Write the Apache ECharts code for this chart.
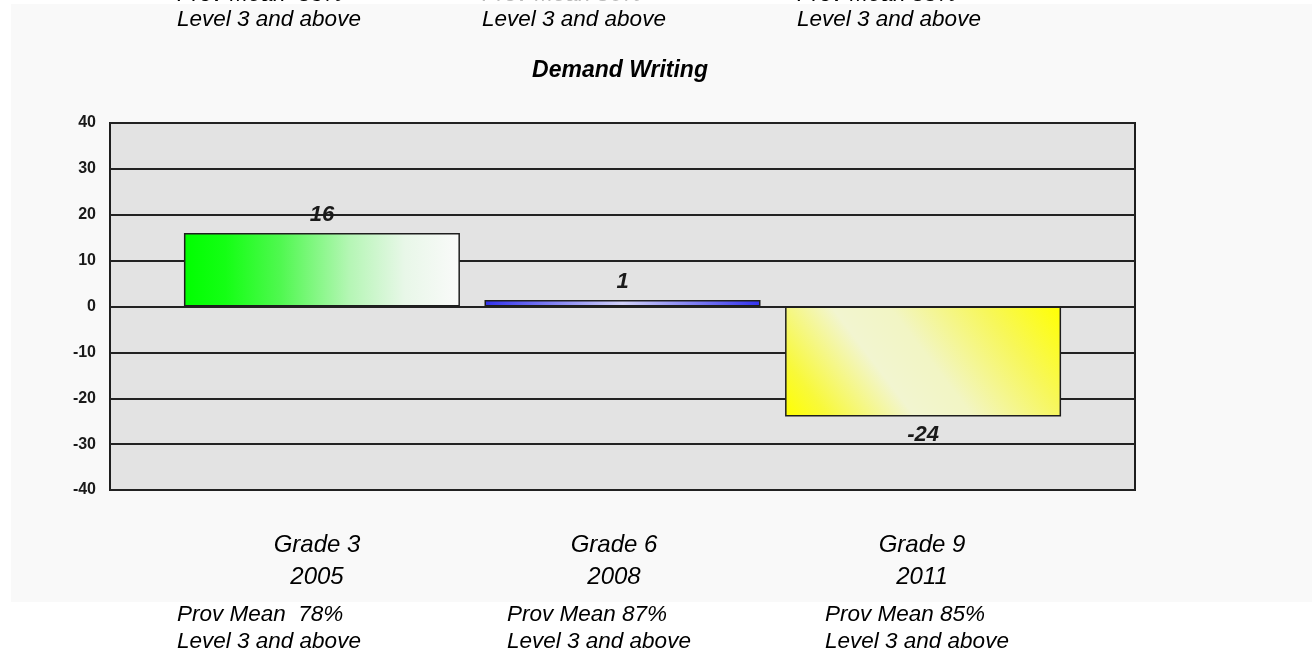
<!DOCTYPE html>
<html>
<head>
<meta charset="utf-8">
<style>
html,body{margin:0;padding:0;background:#ffffff;}
#chart{width:1314px;height:667px;}
</style>
<script src="https://cdn.jsdelivr.net/npm/echarts@6/dist/echarts.min.js"></script>
</head>
<body>
<div id="chart"></div>
<script>
var title = 'Demand Writing';
var grades = ['Grade 3', 'Grade 6', 'Grade 9'];
var years = ['2005', '2008', '2011'];
var values = [16, 1.4, -24];
var provMeans = ['78%', '87%', '85%'];
var topProvMeans = ['83%', '86%', '85%'];
var yTicks = [-40, -30, -20, -10, 0, 10, 20, 30, 40];

var FONT = "'Liberation Sans', Arial, sans-serif";

var fills = [
  new echarts.graphic.LinearGradient(0, 0, 1, 0, [
    {offset: 0, color: '#00ff00'},
    {offset: 0.15, color: '#14ff14'},
    {offset: 0.35, color: '#50f850'},
    {offset: 0.6, color: '#b5f6b5'},
    {offset: 0.8, color: '#e8f7e8'},
    {offset: 1, color: '#fafafa'}
  ]),
  new echarts.graphic.LinearGradient(0, 0, 1, 0, [
    {offset: 0, color: '#3232ee'},
    {offset: 0.5, color: '#d2d2fa'},
    {offset: 1, color: '#3232ee'}
  ]),
  new echarts.graphic.LinearGradient(0, 1, 0.83, -0.58, [
    {offset: 0, color: '#ffff00'},
    {offset: 0.12, color: '#f8f93a'},
    {offset: 0.36, color: '#f2f5d0'},
    {offset: 0.52, color: '#f2f5c4'},
    {offset: 0.78, color: '#f7f75a'},
    {offset: 1, color: '#ffff00'}
  ])
];

var series = grades.map(function (g, i) {
  return {
    name: g,
    type: 'bar',
    barWidth: 276,
    barGap: '8.9%',
    data: [values[i]],
    itemStyle: {color: fills[i], borderColor: '#1e1e1e', borderWidth: 1.5},
    label: {
      show: true,
      position: values[i] < 0 ? 'bottom' : 'top',
      distance: 7,
      formatter: function (p) { return String(Math.round(p.value)); },
      fontFamily: FONT,
      fontSize: 22,
      fontWeight: 'bold',
      fontStyle: 'italic',
      color: '#1a1a1a'
    }
  };
});

var gradeX = [317, 614, 922];
var bottomX = [177, 507, 825];
var topX = [177, 482, 797];

var graphics = [
  {type: 'rect', z: -100, shape: {x: 11, y: 4, width: 1301, height: 598}, style: {fill: '#f9f9f9'}},
  {type: 'text', x: 620, y: 71, style: {text: title, font: 'italic bold 23px ' + FONT, fill: '#000', textAlign: 'center', textVerticalAlign: 'middle'}}
];
grades.forEach(function (g, i) {
  graphics.push({type: 'text', x: gradeX[i], y: 545, style: {text: g, font: 'italic 24px ' + FONT, fill: '#000', textAlign: 'center', textVerticalAlign: 'middle'}});
  graphics.push({type: 'text', x: gradeX[i], y: 577, style: {text: years[i], font: 'italic 24px ' + FONT, fill: '#000', textAlign: 'center', textVerticalAlign: 'middle'}});
  graphics.push({type: 'text', x: bottomX[i], y: 615, style: {text: 'Prov Mean ' + (i === 0 ? ' ' : '') + provMeans[i], font: 'italic 22.5px ' + FONT, fill: '#000', textAlign: 'left', textVerticalAlign: 'middle'}});
  graphics.push({type: 'text', x: bottomX[i], y: 642, style: {text: 'Level 3 and above', font: 'italic 22.5px ' + FONT, fill: '#000', textAlign: 'left', textVerticalAlign: 'middle'}});
  graphics.push({type: 'text', x: topX[i], y: -5, style: {text: 'Prov Mean ' + (i === 0 ? ' ' : '') + topProvMeans[i], font: 'italic 22.5px ' + FONT, fill: i === 1 ? '#bbbbbb' : '#000', textAlign: 'left', textVerticalAlign: 'middle'}});
  graphics.push({type: 'text', x: topX[i], y: 20, style: {text: 'Level 3 and above', font: 'italic 22.5px ' + FONT, fill: '#000', textAlign: 'left', textVerticalAlign: 'middle'}});
});

var chart = echarts.init(document.getElementById('chart'), null, {renderer: 'canvas'});
chart.setOption({
  animation: false,
  backgroundColor: 'transparent',
  grid: {
    left: 110, right: 179, top: 123, bottom: 177,
    show: true, backgroundColor: '#e3e3e3', borderColor: '#1e1e1e', borderWidth: 2,
    containLabel: false
  },
  xAxis: {
    type: 'category',
    data: [title],
    axisLine: {show: false},
    axisTick: {show: false},
    axisLabel: {show: false}
  },
  yAxis: {
    type: 'value',
    min: yTicks[0],
    max: yTicks[yTicks.length - 1],
    interval: 10,
    axisLine: {show: false},
    axisTick: {show: false},
    splitLine: {show: true, lineStyle: {color: '#222', width: 2}},
    axisLabel: {margin: 14, fontFamily: FONT, fontSize: 16, fontWeight: 'bold', color: '#1a1a1a'}
  },
  graphic: graphics,
  series: series
});
</script>
</body>
</html>
